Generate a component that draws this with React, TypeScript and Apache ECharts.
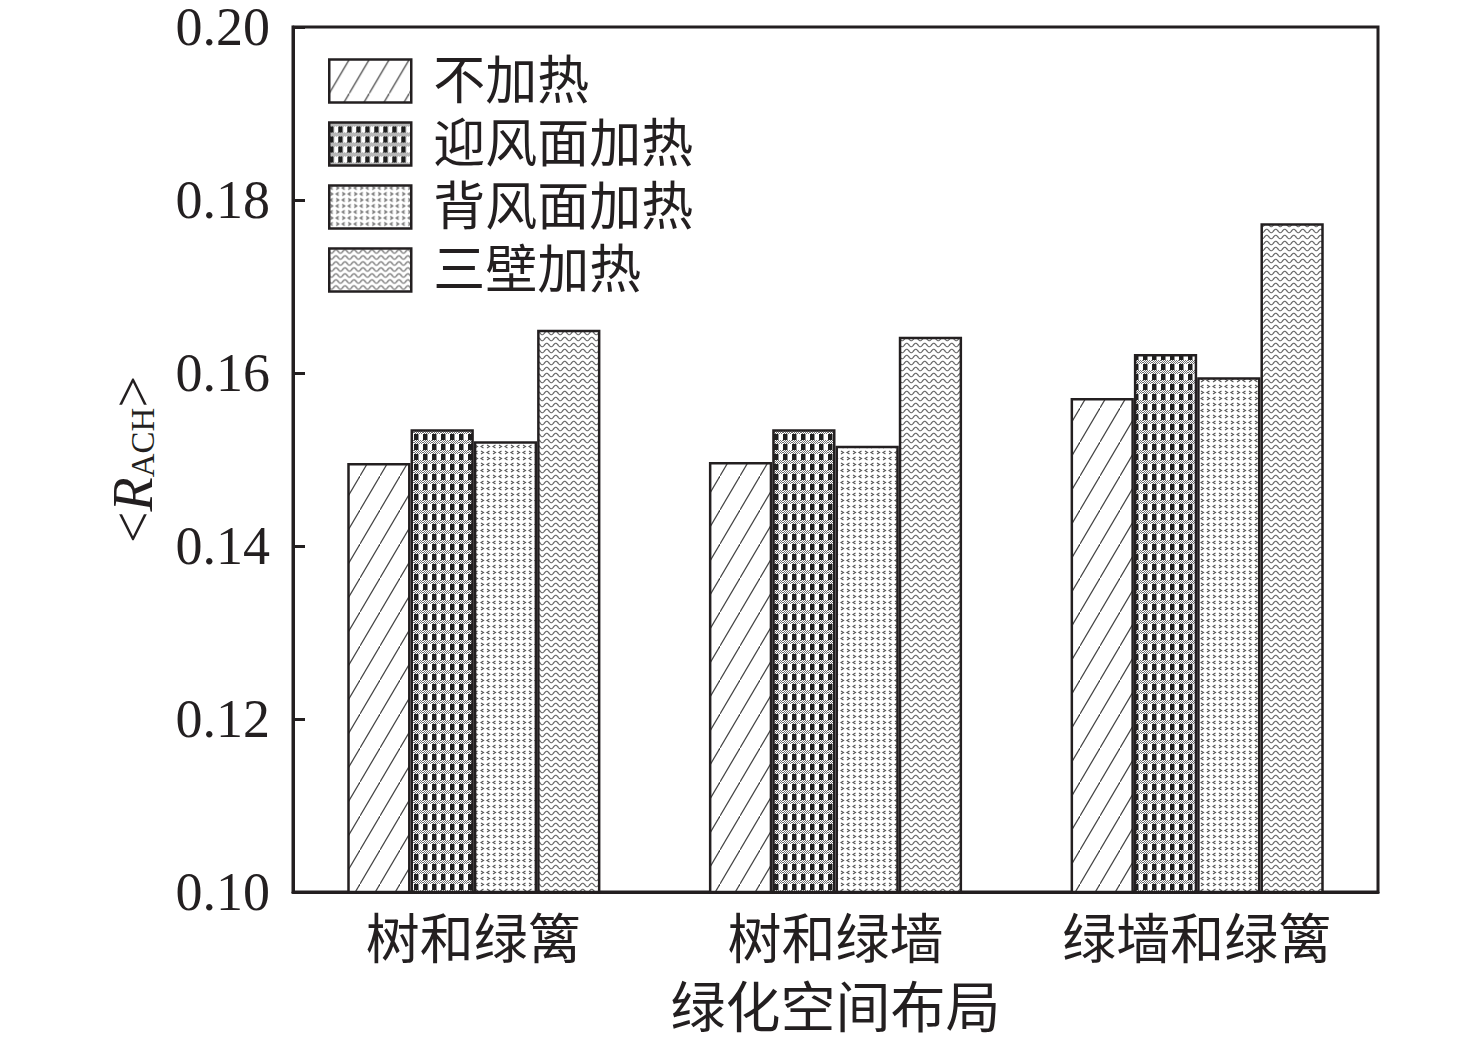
import React, { useEffect, useRef } from "react";
import * as echarts from "echarts";

const categories = ["树和绿篱", "树和绿墙", "绿墙和绿篱"];
const seriesNames = ["不加热", "迎风面加热", "背风面加热", "三壁加热"];
const noHeat = [0.1496, 0.1497, 0.1571];
const windward = [0.1535, 0.1535, 0.1622];
const leeward = [0.1521, 0.1516, 0.1595];
const threeWall = [0.165, 0.1642, 0.1773];
const yMin = 0.1;
const yMax = 0.2;
const yStep = 0.02;

const INK = "#231f20";
const FONT = "'Liberation Serif', 'Noto Sans CJK SC', serif";

function makeTile(w: number, h: number, draw: (ctx: CanvasRenderingContext2D) => void) {
  const c = document.createElement("canvas");
  c.width = w;
  c.height = h;
  const ctx = c.getContext("2d")!;
  ctx.fillStyle = "#ffffff";
  ctx.fillRect(0, 0, w, h);
  draw(ctx);
  return c;
}

function makePatterns() {
  const diag = makeTile(20, 34, (ctx) => {
    ctx.strokeStyle = "#444";
    ctx.lineWidth = 1.2;
    ctx.beginPath();
    ctx.moveTo(-20, 68);
    ctx.lineTo(40, -34);
    ctx.stroke();
  });
  const check = makeTile(9, 10, (ctx) => {
    ctx.fillStyle = "#1e1e1e";
    ctx.fillRect(0, 0, 4.5, 10);
    ctx.fillStyle = "#ffffff";
    ctx.fillRect(0, 0, 9, 4);
    ctx.fillStyle = "#6e6e6e";
    for (let y = 0; y < 4; y++) {
      for (let x = y % 2; x < 9; x += 2) ctx.fillRect(x, y, 1, 1);
    }
  });
  const dots = makeTile(12, 12, (ctx) => {
    ctx.strokeStyle = "#555";
    ctx.lineWidth = 1.1;
    const mark = (x: number, y: number, dir: number) => {
      ctx.beginPath();
      if (dir < 0) {
        ctx.moveTo(x + 2.5, y);
        ctx.lineTo(x, y + 1.5);
        ctx.lineTo(x + 2.5, y + 3);
      } else {
        ctx.moveTo(x, y);
        ctx.lineTo(x + 2.5, y + 1.5);
        ctx.lineTo(x, y + 3);
      }
      ctx.stroke();
    };
    mark(1, 1, -1);
    mark(7, 1, 1);
    mark(1, 7, 1);
    mark(7, 7, -1);
  });
  const wave = makeTile(9, 6, (ctx) => {
    ctx.strokeStyle = "#666";
    ctx.lineWidth = 1.2;
    ctx.beginPath();
    for (let x = -1; x <= 10; x += 0.5) {
      const y = 3 + 1.8 * Math.sin((2 * Math.PI * x) / 9);
      if (x === -1) ctx.moveTo(x, y);
      else ctx.lineTo(x, y);
    }
    ctx.stroke();
  });
  return [diag, check, dots, wave].map((img) => ({ image: img, repeat: "repeat" }));
}

export default function App() {
  const ref = useRef<HTMLDivElement>(null);
  useEffect(() => {
    if (!ref.current) return;
    const chart = echarts.init(ref.current, null, { renderer: "svg" });
    const patterns = makePatterns();
    const values = [noHeat, windward, leeward, threeWall];
    const option: any = {
      animation: false,
      backgroundColor: "#ffffff",
      grid: {
        left: 293,
        right: 98,
        top: 25,
        bottom: 154,
        show: true,
        borderColor: INK,
        borderWidth: 3,
        backgroundColor: "transparent",
      },
      legend: {
        orient: "vertical",
        left: 323,
        top: 50,
        icon: "rect",
        itemWidth: 82,
        itemHeight: 43,
        itemGap: 11,
        data: seriesNames,
        itemStyle: { borderWidth: 2.5, borderColor: INK },
        textStyle: {
          fontSize: 52,
          fontFamily: FONT,
          color: INK,
          lineHeight: 43,
          padding: [0, 0, 0, 17],
        },
      },
      xAxis: {
        type: "category",
        data: categories,
        axisLine: { lineStyle: { color: INK, width: 3 } },
        axisTick: { inside: true, length: 12, lineStyle: { color: INK, width: 3 } },
        axisLabel: { fontSize: 54, margin: 22, color: INK, fontFamily: FONT },
        name: "绿化空间布局",
        nameLocation: "middle",
        nameGap: 89,
        nameTextStyle: { fontSize: 55, color: INK, fontFamily: FONT },
      },
      yAxis: {
        type: "value",
        min: yMin,
        max: yMax,
        interval: yStep,
        splitLine: { show: false },
        axisLine: { show: true, lineStyle: { color: INK, width: 3 } },
        axisTick: { show: true, inside: true, length: 12, lineStyle: { color: INK, width: 3 } },
        axisLabel: {
          fontSize: 54,
          lineHeight: 44,
          margin: 23,
          color: INK,
          fontFamily: FONT,
          formatter: (v: number) => v.toFixed(2),
        },
        name: "{lt|<}{r|R}{s|ACH}{gt|>}",
        nameLocation: "middle",
        nameRotate: 90,
        nameGap: 134,
        nameTextStyle: {
          color: INK,
          fontFamily: FONT,
          rich: {
            lt: { fontSize: 56, fontFamily: FONT, color: INK, lineHeight: 54, verticalAlign: "top" },
            gt: { fontSize: 56, fontFamily: FONT, color: INK, lineHeight: 54, verticalAlign: "top" },
            r: { fontSize: 56, fontFamily: FONT, fontStyle: "italic", color: INK, lineHeight: 54, verticalAlign: "top" },
            s: {
              fontSize: 33,
              fontFamily: FONT,
              color: INK,
              lineHeight: 32,
              padding: [30, 0, 0, 0],
              verticalAlign: "bottom",
            },
          },
        },
      },
      series: seriesNames.map((name, i) => ({
        name,
        type: "bar",
        data: values[i],
        barGap: "0%",
        barCategoryGap: "30%",
        itemStyle: { color: patterns[i], borderColor: INK, borderWidth: 2.5 },
      })),
    };
    chart.setOption(option);
    return () => chart.dispose();
  }, []);
  return (
    <div
      ref={ref}
      style={{ position: "fixed", left: 0, top: 0, width: 1476, height: 1046, background: "#fff" }}
    />
  );
}
